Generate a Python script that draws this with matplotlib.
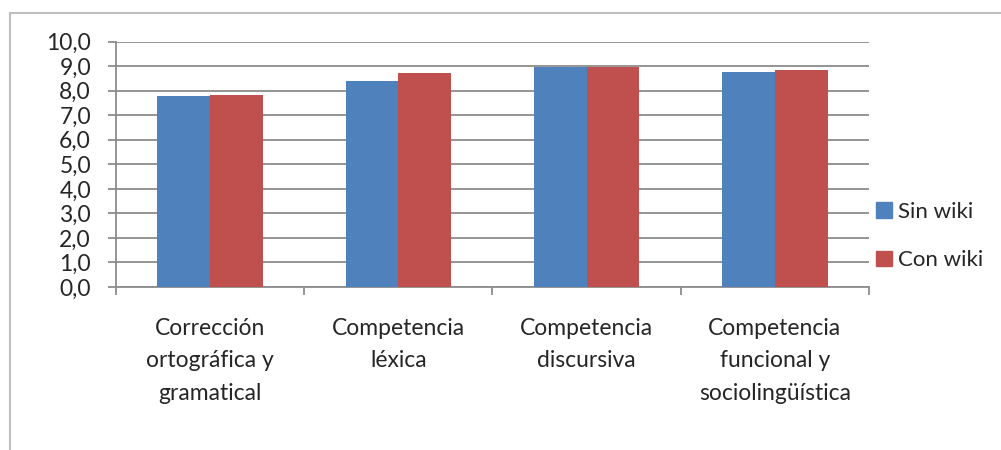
import matplotlib.pyplot as plt
from matplotlib.lines import Line2D
from matplotlib.patches import Patch
from matplotlib.ticker import FuncFormatter
import numpy as np

# Puntuaciones medias por competencia
categorias = ['Corrección\nortográfica y\ngramatical', 'Competencia\nléxica',
              'Competencia\ndiscursiva', 'Competencia\nfuncional y\nsociolingüística']
sin_wiki = [7.80, 8.41, 8.96, 8.78]
con_wiki = [7.84, 8.73, 8.97, 8.85]

azul = '#4F81BD'
rojo = '#C0504D'
gris = '#8c8c8c'
texto = '#262626'

plt.rcParams['font.family'] = ['Lato', 'DejaVu Sans']

W, H = 1001, 450
fig = plt.figure(figsize=(W / 100, H / 100), dpi=100)
ax = fig.add_axes([116 / W, 1 - 287 / H, (869 - 116) / W, (287 - 41.7) / H])

x = np.arange(len(categorias))
ancho = 0.28
ax.bar(x - ancho / 2, sin_wiki, ancho, color=azul, zorder=3)
ax.bar(x + ancho / 2, con_wiki, ancho, color=rojo, zorder=3)

ax.set_xlim(-0.5, len(categorias) - 0.5)
ax.set_ylim(0, 10)
ax.set_yticks(np.arange(0, 11, 1))
ax.yaxis.set_major_formatter(FuncFormatter(lambda v, p: f'{v:.1f}'.replace('.', ',')))
ax.yaxis.grid(True, color=gris, linewidth=1.3, zorder=0)

# categorias centradas, marcas en los limites de cada grupo
ax.set_xticks(x)
ax.set_xticklabels(categorias, linespacing=1.68)
ax.set_xticks(np.arange(-0.5, len(categorias)), minor=True)
ax.tick_params(axis='x', which='major', length=0, pad=22, labelsize=16.5, labelcolor=texto)
ax.tick_params(axis='x', which='minor', length=6, width=1.3, color=gris, direction='out')
ax.tick_params(axis='y', length=6, width=1.3, color=gris, pad=12, labelsize=16.5, labelcolor=texto)

for lado in ['top', 'right']:
    ax.spines[lado].set_visible(False)
for lado in ['left', 'bottom']:
    ax.spines[lado].set_color(gris)
    ax.spines[lado].set_linewidth(1.3)

handles = [Patch(color=azul, label='Sin wiki'), Patch(color=rojo, label='Con wiki')]
fig.legend(handles=handles, loc='center left', bbox_to_anchor=(856 / W, 1 - 236 / H),
           frameon=False, fontsize=16, handlelength=0.7, handleheight=0.7,
           handletextpad=0.3, labelspacing=1.3, labelcolor=texto)

# marco exterior
borde = '#bfbfbf'
fig.add_artist(Line2D([10 / W, 1], [1 - 13 / H] * 2, color=borde, linewidth=1.5))
fig.add_artist(Line2D([10 / W] * 2, [0, 1 - 13 / H], color=borde, linewidth=1.5))

fig.savefig('out.png', dpi=100)
